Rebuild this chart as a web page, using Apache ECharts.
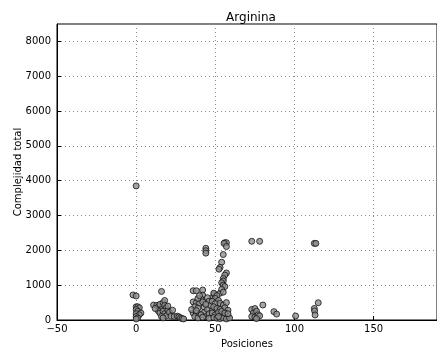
<!DOCTYPE html>
<html>
<head>
<meta charset="utf-8">
<script src="https://cdn.jsdelivr.net/npm/echarts@6/dist/echarts.min.js"></script>
<style>
  html, body { margin: 0; padding: 0; background: #fff; }
  #chart { width: 437px; height: 353px; }
</style>
</head>
<body>
<div id="chart"></div>
<script>
// Arginina: position vs. total complexity
const posiciones = [
  -2, 0, 0, 1, 2, 0, 1, 3, 0, 2, 0, 1, 0, 0,
  16, 11, 13, 14, 15, 16, 17, 18, 18, 19, 14, 15, 17, 18, 19, 20, 16, 17, 20, 12, 21,
  23, 22, 24, 26, 27, 28, 29, 30,
  36, 38, 42, 44, 44, 44, 42, 41, 36, 38, 40, 37, 39, 42, 43, 43, 36, 38, 40, 37, 39,
  45, 46, 45, 47, 44, 46, 48, 35, 38, 41, 42, 46, 44, 39, 40,
  48.7, 49.4, 49, 53, 56, 57, 55.5, 57, 55, 54, 53, 52.3, 57, 56, 55, 55, 54, 55, 56, 54, 55,
  51, 50, 52, 48, 50, 53, 55, 57, 49, 51, 53, 56, 58, 48, 50, 52, 54, 56, 58, 49, 51, 53, 55,
  57, 59, 52, 54, 56, 58,
  73, 78, 73, 75, 74, 76, 73, 75, 77, 78, 80, 76,
  87, 88.7, 100.7, 112.5, 113.5, 112.5, 112.7, 113, 115
];
const complejidad = [
  720, 690, 380, 380, 350, 300, 250, 200, 180, 150, 100, 60, 30, 3850,
  820, 430, 420, 380, 450, 300, 500, 560, 420, 350, 260, 200, 250, 180, 120, 280, 100, 60, 400, 330, 220,
  280, 110, 100, 110, 90, 60, 40, 30,
  840, 840, 860, 2060, 1990, 1920, 710, 600, 520, 500, 480, 380, 340, 520, 360, 220, 200, 200, 170, 100, 60,
  640, 540, 300, 420, 100, 180, 260, 300, 270, 150, 80, 50, 450, 620, 700,
  670, 740, 770, 770, 2220, 2220, 2200, 2110, 1880, 1660, 1510, 1460, 1350, 1290, 1190, 1120, 1070, 1000, 960, 880, 800,
  700, 620, 560, 540, 470, 480, 430, 500, 380, 330, 300, 350, 280, 200, 150, 220, 160, 120, 100, 70, 50, 40, 60,
  30, 60, 100, 250, 200, 180,
  2260, 2260, 300, 330, 200, 250, 100, 80, 150, 120, 430, 40,
  240, 170, 115, 2200, 2200, 330, 260, 145, 495
];
const xTicks = [-50, 0, 50, 100, 150];
const yTicks = [0, 1000, 2000, 3000, 4000, 5000, 6000, 7000, 8000];

const puntos = posiciones.map((x, i) => [x, complejidad[i]]);

const font = 'DejaVu Sans';
const gridLine = { show: true, lineStyle: { color: '#8a8a8a', type: [1, 3], width: 1 } };

const chart = echarts.init(document.getElementById('chart'), null, { renderer: 'canvas' });
chart.setOption({
  animation: false,
  backgroundColor: '#fff',
  title: {
    text: 'Arginina',
    left: 246, top: 7, textAlign: 'center',
    textStyle: { fontFamily: font, fontSize: 12, fontWeight: 'normal', color: '#000' }
  },
  grid: {
    left: 57, right: 0, top: 24, bottom: 33,
    outerBoundsMode: 'none', containLabel: false,
    show: true, borderColor: '#000', borderWidth: 1, backgroundColor: 'transparent'
  },
  xAxis: {
    type: 'value', min: -50, max: 190, interval: 50,
    name: 'Posiciones', nameLocation: 'middle', nameGap: 19, nameMoveOverlap: false,
    nameTextStyle: { fontFamily: font, fontSize: 10, color: '#000' },
    axisLine: { show: true, onZero: false, lineStyle: { color: '#000' } },
    axisTick: { show: true, inside: true, length: 4, lineStyle: { color: '#000' } },
    axisLabel: {
      fontFamily: font, fontSize: 10, color: '#000', margin: 4,
      showMaxLabel: false,
      formatter: v => xTicks.includes(v) ? String(v).replace('-', '\u2212') : ''
    },
    splitLine: gridLine
  },
  yAxis: {
    type: 'value', min: 0, max: 8500, interval: 1000,
    name: 'Complejidad total', nameLocation: 'middle', nameGap: 34, nameRotate: 90,
    nameMoveOverlap: false,
    nameTextStyle: { fontFamily: font, fontSize: 10, color: '#000' },
    axisLine: { show: true, onZero: false, lineStyle: { color: '#000' } },
    axisTick: { show: true, inside: true, length: 4, lineStyle: { color: '#000' } },
    axisLabel: {
      fontFamily: font, fontSize: 10, color: '#000', margin: 6,
      showMaxLabel: false,
      formatter: v => yTicks.includes(v) ? String(v) : ''
    },
    splitLine: gridLine
  },
  series: [{
    type: 'scatter',
    data: puntos,
    symbol: 'circle',
    symbolSize: 6,
    itemStyle: { color: '#8f8f8f', borderColor: '#111', borderWidth: 1 },
    clip: false
  }]
});
</script>
</body>
</html>
